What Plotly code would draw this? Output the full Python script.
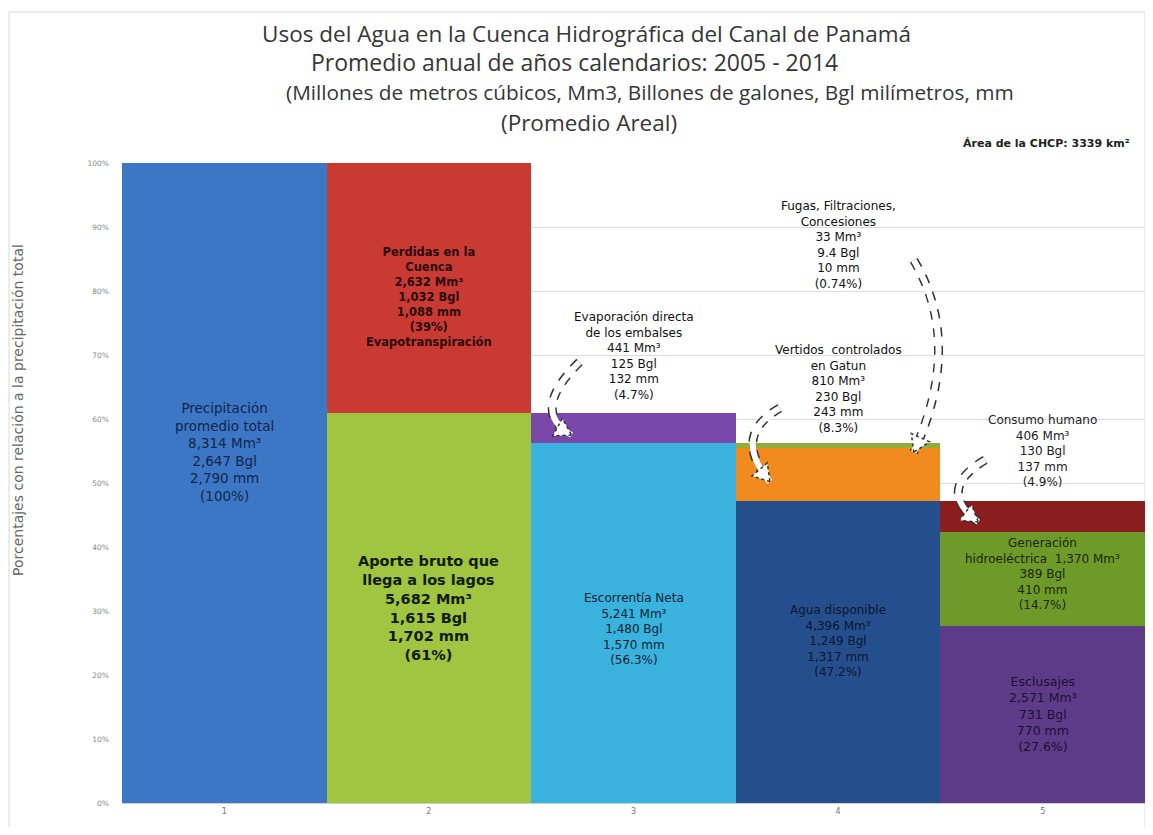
import math
import plotly.graph_objects as go

# ---------------- data ----------------
categories = [1, 2, 3, 4, 5]
tick_labels = ["1", "2", "3", "4", "5"]

# stacked segments (bottom to top within each bar), % of total precipitation
seg_names = ["Precipitación promedio total", "Aporte bruto que llega a los lagos",
             "Pérdidas en la Cuenca", "Escorrentía Neta", "Evaporación directa de los embalses",
             "Agua disponible", "Vertidos controlados en Gatun", "Fugas, Filtraciones, Concesiones",
             "Esclusajes", "Generación hidroeléctrica", "Consumo humano"]
seg_cat = [1, 2, 2, 3, 3, 4, 4, 4, 5, 5, 5]
seg_pct = [100, 61, 39, 56.3, 4.7, 47.2, 8.3, 0.74, 27.6, 14.7, 4.9]
seg_colors = ["#3b77c5", "#9fc541", "#c93a33", "#3ab2de", "#7a48a8",
              "#244f8c", "#f18b1d", "#8fae3c", "#5d3b89", "#6e9a2a", "#8a1d1d"]

y_ticks = [0, 10, 20, 30, 40, 50, 60, 70, 80, 90, 100]
y_tick_labels = [f"{v}%" for v in y_ticks]

# labels: category, y position (%), text, font size, bold, colour
label_cat = [1, 2, 2, 3, 3, 4, 4, 4, 5, 5, 5]
label_y = [54.8, 79.0, 30.4, 69.8, 27.2, 87.2, 64.7, 25.3, 55.0, 35.8, 13.9]
label_text = [
    "Precipitación<br>promedio total<br>8,314 Mm³<br>2,647 Bgl<br>2,790 mm<br>(100%)",
    "Perdidas en la<br>Cuenca<br>2,632 Mm³<br>1,032 Bgl<br>1,088 mm<br>(39%)<br>Evapotranspiración",
    "Aporte bruto que<br>llega a los lagos<br>5,682 Mm³<br>1,615 Bgl<br>1,702 mm<br>(61%)",
    "Evaporación directa<br>de los embalses<br>441 Mm³<br>125 Bgl<br>132 mm<br>(4.7%)",
    "Escorrentía Neta<br>5,241 Mm³<br>1,480 Bgl<br>1,570 mm<br>(56.3%)",
    "Fugas, Filtraciones,<br>Concesiones<br>33 Mm³<br>9.4 Bgl<br>10 mm<br>(0.74%)",
    "Vertidos  controlados<br>en Gatun<br>810 Mm³<br>230 Bgl<br>243 mm<br>(8.3%)",
    "Agua disponible<br>4,396 Mm³<br>1,249 Bgl<br>1,317 mm<br>(47.2%)",
    "Consumo humano<br>406 Mm³<br>130 Bgl<br>137 mm<br>(4.9%)",
    "Generación<br>hidroeléctrica  1,370 Mm³<br>389 Bgl<br>410 mm<br>(14.7%)",
    "Esclusajes<br>2,571 Mm³<br>731 Bgl<br>770 mm<br>(27.6%)",
]
label_size = [13.5, 11.5, 14.5, 12, 12, 12, 12, 12, 12, 12, 12.5]
label_bold = [False, True, True, False, False, False, False, False, False, False, False]
label_color = ["#14244a", "#2a0b0b", "#111a05", "#111111", "#0d1f33",
               "#111111", "#111111", "#0b1530", "#222222", "#1a2608", "#1d1030"]

title_lines = [
    "Usos del Agua en la Cuenca Hidrográfica del Canal de Panamá",
    "Promedio anual de años calendarios: 2005 - 2014",
    "(Millones de metros cúbicos, Mm3, Billones de galones, Bgl milímetros, mm",
    "(Promedio Areal)",
]
area_text = "Área de la CHCP: 3339 km²"
y_title = "Porcentajes con relación a la precipitación total"

# curved arrows: tail, control, head (data coords)
arrow_tail = [(2.736, 68.9), (3.715, 61.7), (4.370, 84.8), (4.719, 53.6)]
arrow_ctrl = [(2.49, 61.2), (3.477, 57.4), (4.612, 71.8), (4.474, 49.0)]
arrow_head = [(2.697, 57.5), (3.667, 50.2), (4.370, 54.8), (4.685, 43.9)]

# ---------------- geometry (page offset of 8px body margin) ----------------
FIG_W, FIG_H = 1137, 819
M_L, M_R, M_T, M_B = 114, 0, 155, 24
PLOT_W = FIG_W - M_L - M_R
PLOT_H = FIG_H - M_T - M_B
PX_PER_X = PLOT_W / 5.0
PX_PER_Y = PLOT_H / 100.0


def paper_x(page_px):
    return (page_px - 8 - M_L) / PLOT_W


def paper_y(page_py):
    return (FIG_H - M_B - (page_py - 8)) / PLOT_H


# ---------------- figure ----------------
fig = go.Figure()
for name, c, v, col in zip(seg_names, seg_cat, seg_pct, seg_colors):
    fig.add_trace(go.Bar(x=[c], y=[v], name=name, marker=dict(color=col, line=dict(width=0)),
                         width=1.0, showlegend=False, hoverinfo="name+y"))

fig.update_layout(
    barmode="stack", bargap=0,
    width=FIG_W, height=FIG_H,
    margin=dict(l=M_L, r=M_R, t=M_T, b=M_B, autoexpand=False),
    paper_bgcolor="white", plot_bgcolor="white",
    font=dict(family="DejaVu Sans, Arial, sans-serif", color="#222"),
    xaxis=dict(range=[0.5, 5.5], tickmode="array", tickvals=categories, ticktext=tick_labels,
               tickfont=dict(size=8, color="#777"), showgrid=False, zeroline=False,
               showline=True, linecolor="#d0d0d0", ticks=""),
    yaxis=dict(range=[0, 100], tickmode="array", tickvals=y_ticks, ticktext=y_tick_labels,
               tickfont=dict(size=7.5, color="#888"), showgrid=True, gridcolor="#dcdcdc",
               zeroline=False, ticks="", ticklabelstandoff=12, layer="below traces"),
)

annotations = []
title_y_px = [33, 62, 92, 122]
title_x_px = [586, 574, 650, 589]
title_size = [22.5, 23, 20.8, 22.5]
for t, ypx, xpx, sz in zip(title_lines, title_y_px, title_x_px, title_size):
    annotations.append(dict(text=t, xref="paper", yref="paper",
                            x=paper_x(xpx), y=paper_y(ypx),
                            showarrow=False, xanchor="center", yanchor="middle",
                            font=dict(family="Open Sans, sans-serif", size=sz, color="#363636")))
annotations.append(dict(text=area_text, xref="paper", yref="paper",
                        x=paper_x(1132), y=paper_y(143), xanchor="right", yanchor="middle",
                        showarrow=False, font=dict(size=11, color="#222", weight=700)))
annotations.append(dict(text=y_title, xref="paper", yref="paper", textangle=-90,
                        x=paper_x(18), y=paper_y(410), xanchor="center", yanchor="middle",
                        showarrow=False, font=dict(size=14, color="#666")))

for c, yv, t, sz, b, col in zip(label_cat, label_y, label_text, label_size, label_bold, label_color):
    annotations.append(dict(text=f"<b>{t}</b>" if b else t, x=c, y=yv, xref="x", yref="y",
                            showarrow=False, xanchor="center", yanchor="middle", align="center",
                            font=dict(size=sz, color=col)))

shapes = []
for (tx, ty), (cx, cy), (hx, hy) in zip(arrow_tail, arrow_ctrl, arrow_head):
    path = f"M {tx},{ty} Q {cx},{cy} {hx},{hy}"
    shapes.append(dict(type="path", path=path, xref="x", yref="y",
                       line=dict(color="#333", width=9, dash="dot")))
    shapes.append(dict(type="path", path=path, xref="x", yref="y",
                       line=dict(color="white", width=6)))
    # arrow head triangle (computed in pixel space, converted to data)
    dx = (hx - cx) * PX_PER_X
    dy = -(hy - cy) * PX_PER_Y
    n = math.hypot(dx, dy)
    ux, uy = dx / n, dy / n
    L, W = 16, 10
    bx, by = -ux * L, -uy * L
    px_pts = [(0, 0), (bx - uy * W, by + ux * W), (bx + uy * W, by - ux * W)]
    pts = [(hx + p / PX_PER_X, hy - q / PX_PER_Y) for p, q in px_pts]
    tri = "M " + " L ".join(f"{a},{b}" for a, b in pts) + " Z"
    shapes.append(dict(type="path", path=tri, xref="x", yref="y", fillcolor="white",
                       line=dict(color="#333", width=1.5, dash="dot")))

# outer chart frame
shapes.append(dict(type="rect", xref="paper", yref="paper",
                   x0=paper_x(9), x1=1.0, y0=paper_y(829), y1=paper_y(12),
                   line=dict(color="#d8d8d8", width=1), layer="below"))

fig.update_layout(annotations=annotations, shapes=shapes)
fig.write_html("out.html")
